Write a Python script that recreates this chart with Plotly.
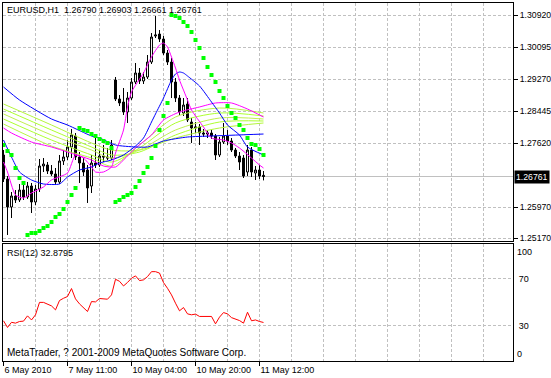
import plotly.graph_objects as go

# ---------------- data (EURUSD H1) ----------------
bars = list(range(66))
open_ = [1.27315, 1.26697, 1.25976, 1.26259, 1.26156, 1.26413, 1.26233, 1.26516, 1.26104, 1.26439,
         1.27031, 1.27057, 1.26903, 1.26825, 1.26619, 1.27160, 1.27263, 1.27521, 1.27804, 1.27263,
         1.27109, 1.26928, 1.26516, 1.27109, 1.27057, 1.27289, 1.27263, 1.27237, 1.29246, 1.28757,
         1.28679, 1.28422, 1.28782, 1.29194, 1.29426, 1.29220, 1.29323, 1.29709, 1.30379, 1.30430,
         1.30302, 1.29941, 1.29709, 1.29194, 1.28782, 1.28396, 1.28628, 1.28164, 1.28010, 1.28036,
         1.27881, 1.27855, 1.27881, 1.27804, 1.27315, 1.27649, 1.27804, 1.27675, 1.27443, 1.27289,
         1.27237, 1.26877, 1.27443, 1.26851, 1.26928, 1.26790]
high_ = [1.27444, 1.26774, 1.26362, 1.26413, 1.26568, 1.26568, 1.26619, 1.26594, 1.26542, 1.27212,
         1.27237, 1.27134, 1.27057, 1.26980, 1.27315, 1.27444, 1.27701, 1.27984, 1.27881, 1.27392,
         1.27237, 1.27057, 1.27315, 1.27752, 1.27444, 1.27572, 1.27495, 1.27701, 1.29323, 1.28860,
         1.29040, 1.28937, 1.29297, 1.29684, 1.29555, 1.29452, 1.29890, 1.30456, 1.30894, 1.30533,
         1.30379, 1.30018, 1.29812, 1.29297, 1.28860, 1.28782, 1.28782, 1.28267, 1.28164, 1.28113,
         1.27984, 1.27958, 1.27958, 1.27855, 1.27778, 1.28139, 1.27958, 1.27752, 1.27495, 1.27392,
         1.27315, 1.27572, 1.27521, 1.27031, 1.27057, 1.26903]
low_ = [1.26619, 1.25255, 1.25692, 1.26079, 1.26104, 1.26156, 1.26182, 1.25821, 1.26027, 1.26362,
        1.26877, 1.26825, 1.26774, 1.26568, 1.26568, 1.27057, 1.27186, 1.27237, 1.27186, 1.26594,
        1.26774, 1.26079, 1.26336, 1.26980, 1.27006, 1.27134, 1.27186, 1.27186, 1.28705, 1.28576,
        1.28345, 1.28139, 1.28731, 1.29143, 1.29143, 1.29143, 1.29272, 1.29658, 1.30327, 1.30224,
        1.29890, 1.29632, 1.28782, 1.28679, 1.28345, 1.28319, 1.28164, 1.27624, 1.27881, 1.27572,
        1.27778, 1.27752, 1.27727, 1.27186, 1.27263, 1.27598, 1.27572, 1.27392, 1.27237, 1.26928,
        1.26722, 1.26774, 1.26748, 1.26671, 1.26697, 1.26661]
close_ = [1.26697, 1.25976, 1.26259, 1.26156, 1.26413, 1.26233, 1.26516, 1.26104, 1.26439, 1.27031,
          1.27083, 1.26903, 1.26825, 1.26619, 1.27160, 1.27263, 1.27521, 1.27830, 1.27263, 1.27109,
          1.26877, 1.26465, 1.27109, 1.27057, 1.27289, 1.27263, 1.27237, 1.27572, 1.28757, 1.28654,
          1.28422, 1.28782, 1.29194, 1.29426, 1.29220, 1.29323, 1.29709, 1.30353, 1.30405, 1.30302,
          1.29941, 1.29709, 1.29194, 1.28782, 1.28422, 1.28602, 1.28216, 1.28010, 1.28036, 1.27881,
          1.27855, 1.27881, 1.27804, 1.27315, 1.27649, 1.27804, 1.27675, 1.27443, 1.27289, 1.27134,
          1.26774, 1.27443, 1.26877, 1.26928, 1.26774, 1.26761]

rsi12 = [34.3, 28.6, 33.0, 32.3, 33.7, 34.0, 38.5, 35.0, 39.4, 50.0,
         50.0, 48.7, 47.0, 43.6, 51.6, 53.5, 55.0, 61.8, 53.0, 48.7,
         45.6, 42.2, 50.7, 50.4, 53.3, 53.3, 52.7, 56.4, 69.7, 68.0,
         64.0, 67.0, 70.6, 72.6, 68.6, 69.2, 72.0, 76.2, 76.2, 75.0,
         66.9, 62.0, 56.4, 49.3, 42.8, 45.6, 40.2, 39.4, 40.0, 38.0,
         38.0, 38.0, 38.0, 31.7, 37.4, 41.3, 40.2, 37.0, 35.7, 34.5,
         32.3, 41.6, 34.3, 35.0, 33.7, 32.8795]

sar = [1.27572, 1.27418, 1.27315, 1.26980, 1.26722, 1.26594, 1.25255, 1.25306, 1.25306, 1.25358,
       1.25435, 1.25486, 1.25589, 1.25718, 1.25795, 1.25924, 1.26104, 1.26285, 1.26465, 1.28010,
       1.27958, 1.27933, 1.27855, 1.27804, 1.27727, 1.27675, 1.27624, 1.27495, 1.26104, 1.26156,
       1.26233, 1.26285, 1.26336, 1.26491, 1.26645, 1.26851, 1.27006, 1.27237, 1.27546, 1.27958,
       1.28319, 1.28654, 1.30920, 1.30894, 1.30843, 1.30740, 1.30637, 1.30482, 1.30276, 1.30070,
       1.29812, 1.29581, 1.29375, 1.29194, 1.28963, 1.28782, 1.28576, 1.28396, 1.28267, 1.28087,
       1.27958, 1.27752, 1.27598, 1.27572, 1.27469, 1.27315]

slow_blue_x = [0, 4, 12, 16, 22, 24, 28, 33, 36, 40, 46, 52, 65]
slow_blue = [1.29066, 1.28731, 1.28242, 1.28087, 1.27804, 1.27752, 1.27572, 1.27521, 1.27521,
             1.27675, 1.27778, 1.27804, 1.27855]

fast_blue_x = [0, 2, 4, 7, 10, 14, 16, 19, 22, 24, 27, 30, 33, 35, 37, 38, 40, 42, 43, 44,
               45, 46, 49, 52, 54, 56, 59, 61, 65]
fast_blue = [1.27701, 1.27263, 1.26877, 1.26671, 1.26568, 1.26568, 1.26748, 1.26928, 1.27006, 1.27109,
             1.27186, 1.27315, 1.27546, 1.27752, 1.28164, 1.28371, 1.28782, 1.29246, 1.29401, 1.29452,
             1.29426, 1.29349, 1.29092, 1.28679, 1.28396, 1.28087, 1.27830, 1.27521, 1.27315]

fast_magenta_x = [0, 1, 3, 5, 7, 10, 12, 16, 18, 20, 22, 23, 25, 27, 28, 30, 31, 32, 35, 37,
                  39, 40, 41, 42, 43, 44, 46, 47, 50, 52, 55, 57, 59, 62, 64, 65]
fast_magenta = [1.27134, 1.26877, 1.26285, 1.26207, 1.26336, 1.26491, 1.26671, 1.26851, 1.27315, 1.27237,
                1.27006, 1.26877, 1.26877, 1.27006, 1.27366, 1.27958, 1.28551, 1.28937, 1.29426, 1.29838,
                1.30147, 1.30198, 1.30096, 1.29838, 1.29555, 1.29246, 1.28731, 1.28474, 1.28036, 1.27752,
                1.27701, 1.27624, 1.27495, 1.27237, 1.27057, 1.26980]

slow_magenta_x = [0, 2, 7, 12, 16, 22, 25, 28, 30, 33, 37, 40, 44, 49, 53, 57, 61, 65]
slow_magenta = [1.28010, 1.27881, 1.27649, 1.27521, 1.27392, 1.27186, 1.27031, 1.27006, 1.27186,
                1.27495, 1.27830, 1.28216, 1.28422, 1.28551, 1.28654, 1.28654, 1.28499, 1.28293]

ribbon_x = [0, 12, 22, 27, 34, 43, 54, 65]
ribbon_1 = [1.28628, 1.28087, 1.27624, 1.27443, 1.27443, 1.27752, 1.28010, 1.28139]
ribbon_2 = [1.28499, 1.27958, 1.27521, 1.27315, 1.27392, 1.27830, 1.28164, 1.28190]
ribbon_3 = [1.28371, 1.27830, 1.27443, 1.27237, 1.27443, 1.27958, 1.28267, 1.28242]
ribbon_4 = [1.28242, 1.27701, 1.27315, 1.27134, 1.27495, 1.28139, 1.28396, 1.28319]
ribbon_5 = [1.28113, 1.27546, 1.27237, 1.27031, 1.27572, 1.28293, 1.28525, 1.28396]

label_bars = [0, 16, 32, 48, 64]
time_labels = ["6 May 2010", "7 May 11:00", "10 May 04:00", "10 May 20:00", "11 May 12:00"]
grid_bars = [8 * i for i in range(1, 16)]
price_ticks = [1.30920, 1.30095, 1.29270, 1.28445, 1.27620, 1.25970, 1.25170]
rsi_levels = [30, 70]

# ---------------- styling ----------------
FONT = "Liberation Sans, Arial, sans-serif"
FS = 9
GRID = "#c0c0c0"
DASH = "3px,2px"
X_RANGE = [-0.125, 127.375]

fig = go.Figure()

ribbon_cols = ["#b4f53c", "#adff2f", "#c0f050", "#adff2f", "#b8f545"]
for vals, col in zip([ribbon_1, ribbon_2, ribbon_3, ribbon_4, ribbon_5], ribbon_cols):
    fig.add_trace(go.Scatter(x=ribbon_x, y=vals, mode="lines",
                             line=dict(color=col, width=1, shape="spline", smoothing=0.8),
                             hoverinfo="skip", xaxis="x", yaxis="y"))

for xs, ys, col in [(slow_magenta_x, slow_magenta, "#ff00ff"),
                    (slow_blue_x, slow_blue, "#0000ff"),
                    (fast_blue_x, fast_blue, "#0000ff"),
                    (fast_magenta_x, fast_magenta, "#ff00ff")]:
    fig.add_trace(go.Scatter(x=xs, y=ys, mode="lines",
                             line=dict(color=col, width=1, shape="spline", smoothing=0.6),
                             hoverinfo="skip", xaxis="x", yaxis="y"))

fig.add_trace(go.Candlestick(
    x=bars, open=open_, high=high_, low=low_, close=close_,
    increasing=dict(line=dict(color="black", width=1), fillcolor="white"),
    decreasing=dict(line=dict(color="black", width=1), fillcolor="black"),
    whiskerwidth=0, hoverinfo="skip", xaxis="x", yaxis="y"))

fig.add_trace(go.Scatter(x=bars, y=sar, mode="markers",
                         marker=dict(symbol="square", size=4, color="#00ff00", line=dict(width=0)),
                         hoverinfo="skip", xaxis="x", yaxis="y"))

fig.add_trace(go.Scatter(x=bars, y=rsi12, mode="lines",
                         line=dict(color="#ff0000", width=1),
                         hoverinfo="skip", xaxis="x2", yaxis="y2"))

# current price line
fig.add_shape(type="line", xref="x domain", yref="y", x0=0, x1=1,
              y0=close_[-1], y1=close_[-1], line=dict(color=GRID, width=1), layer="below")

axis_common = dict(showline=True, linecolor="black", linewidth=1, mirror=True,
                   zeroline=False, gridcolor=GRID, gridwidth=1, griddash=DASH,
                   automargin=False)

fig.update_layout(
    width=551, height=378,
    margin=dict(l=3, r=38, t=3, b=17),
    paper_bgcolor="white", plot_bgcolor="white",
    showlegend=False,
    xaxis=dict(domain=[0, 1], range=X_RANGE, anchor="y", tickvals=grid_bars,
               showticklabels=False, ticks="", showgrid=True,
               rangeslider=dict(visible=False), **axis_common),
    yaxis=dict(domain=[0.3352, 1], range=[1.25100, 1.31229], side="right", anchor="x",
               tickvals=price_ticks, tickformat=".5f", ticks="outside", ticklen=4,
               tickcolor="black", tickfont=dict(family=FONT, size=8.7, color="black"),
               ticklabelstandoff=0,
               showgrid=True, **axis_common),
    xaxis2=dict(domain=[0, 1], range=X_RANGE, anchor="y2", tickvals=label_bars,
                ticktext=time_labels, ticks="outside", ticklen=4, tickcolor="black",
                ticklabelposition="outside right", tickangle=0, ticklabelstandoff=0,
                tickfont=dict(family=FONT, size=FS, color="black"), showgrid=True,
                minor=dict(tickvals=[v for v in grid_bars if v not in label_bars],
                           showgrid=True, gridcolor=GRID, griddash=DASH, ticks=""),
                **axis_common),
    yaxis2=dict(domain=[0, 0.3275], range=[0, 100], side="right", anchor="x2",
                tickvals=rsi_levels, ticks="", ticklabelstandoff=3,
                tickfont=dict(family=FONT, size=FS, color="black"),
                showgrid=True, **axis_common),
)

title_txt = "EURUSD,H1\u00a0\u00a0{:.5f} {:.5f} {:.5f} {:.5f}".format(open_[-1], high_[-1], low_[-1], close_[-1])
ann = [
    dict(text=title_txt, xref="paper", yref="paper", x=0, y=1, xanchor="left", yanchor="top",
         xshift=2, yshift=0, showarrow=False, font=dict(family=FONT, size=FS, color="black")),
    dict(text="RSI(12) {:.4f}".format(rsi12[-1]), xref="paper", yref="paper", x=0, y=0.3275,
         xanchor="left", yanchor="top", xshift=2, yshift=-2, showarrow=False,
         font=dict(family=FONT, size=FS, color="black")),
    dict(text="MetaTrader, ? 2001-2009 MetaQuotes Software Corp.", xref="paper", yref="paper",
         x=0, y=0, xanchor="left", yanchor="bottom", xshift=2, yshift=1, showarrow=False,
         font=dict(family=FONT, size=10, color="black")),
    dict(text="{:.5f}".format(close_[-1]), xref="paper", yref="y", x=1, y=close_[-1],
         xanchor="left", yanchor="middle", xshift=1, showarrow=False, bgcolor="black",
         borderpad=1, font=dict(family=FONT, size=8.7, color="white")),
    dict(text="100", xref="paper", yref="y2", x=1, y=100, xanchor="left", yanchor="top",
         xshift=2, yshift=-1, showarrow=False, font=dict(family=FONT, size=FS, color="black")),
    dict(text="0", xref="paper", yref="y2", x=1, y=0, xanchor="left", yanchor="bottom",
         xshift=2, yshift=0, showarrow=False, font=dict(family=FONT, size=FS, color="black")),
]
fig.update_layout(annotations=ann)

fig.write_html("out.html", config={"displayModeBar": False},
               post_script="document.body.style.margin='0';")
